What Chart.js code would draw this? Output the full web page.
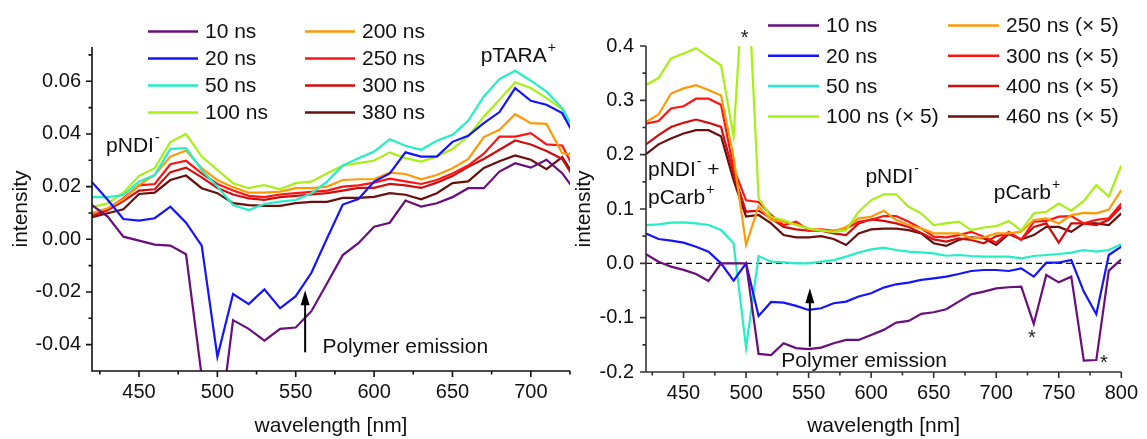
<!DOCTYPE html>
<html>
<head>
<meta charset="utf-8">
<script src="https://cdn.jsdelivr.net/npm/chart.js@4.4.1/dist/chart.umd.min.js"></script>
<style>
  html, body { margin: 0; padding: 0; background: #fff; }
  #wrap { position: relative; width: 1147px; height: 439px; overflow: hidden; }
  canvas { position: absolute; top: 0; }
  #left { left: 0; }
  #right { left: 572px; }
</style>
</head>
<body>
<div id="wrap">
  <canvas id="left" width="572" height="439"></canvas>
  <canvas id="right" width="575" height="439"></canvas>
</div>
<script>
const FONT = '"Liberation Sans", Arial, sans-serif';
Chart.defaults.font.family = FONT;
Chart.defaults.color = '#111';

const lineColors = ['#6a0d7e', '#1414ff', '#22efc6', '#a8f014', '#ff9a05', '#ff1414', '#d20d0d', '#6b0e0e'];

// --- left panel: transient spectra, 10 nm steps ---
const wlLeft = [420, 430, 440, 450, 460, 470, 480, 490, 500, 510, 520, 530, 540, 550, 560, 570,
  580, 590, 600, 610, 620, 630, 640, 650, 660, 670, 680, 690, 700, 710, 720, 730];
const leftLabels = ['10 ns', '20 ns', '50 ns', '100 ns', '200 ns', '250 ns', '300 ns', '380 ns'];

const l10 = [0.013, 0.0086, 0.001, -0.0005, -0.002, -0.0024, -0.0057, -0.052, -0.078, -0.0307, -0.034, -0.0385,
  -0.034, -0.0335, -0.0273, -0.0167, -0.006, -0.0015, 0.0048, 0.0063, 0.0147, 0.0124, 0.0137, 0.016,
  0.0194, 0.0194, 0.0257, 0.0289, 0.0272, 0.0302, 0.0251, 0.017];
const l20 = [0.0217, 0.015, 0.0077, 0.0071, 0.008, 0.0124, 0.0063, -0.0024, -0.0446, -0.0208, -0.0246, -0.019,
  -0.0262, -0.0216, -0.0127, 0.0004, 0.0132, 0.0153, 0.0219, 0.025, 0.033, 0.0314, 0.0314, 0.037,
  0.0393, 0.0441, 0.0483, 0.0574, 0.0526, 0.0511, 0.0479, 0.037];
const l50 = [0.016, 0.016, 0.0168, 0.0219, 0.0244, 0.0343, 0.0346, 0.0263, 0.02, 0.013, 0.0111, 0.0134,
  0.0143, 0.0149, 0.0175, 0.0219, 0.028, 0.0308, 0.0333, 0.038, 0.0355, 0.034, 0.0374, 0.0397,
  0.045, 0.0542, 0.0608, 0.064, 0.0602, 0.0561, 0.0498, 0.039];
const l100 = [0.0122, 0.0137, 0.0177, 0.0241, 0.027, 0.0369, 0.04, 0.0314, 0.0263, 0.0213, 0.0194, 0.0206,
  0.019, 0.0213, 0.0219, 0.0251, 0.028, 0.0289, 0.0299, 0.033, 0.0308, 0.0295, 0.0314, 0.0343,
  0.039, 0.0466, 0.053, 0.0596, 0.0574, 0.0536, 0.0494, 0.037];
const l200 = [0.0099, 0.0118, 0.0152, 0.0206, 0.0244, 0.0314, 0.0337, 0.027, 0.0225, 0.0198, 0.0177, 0.0177,
  0.0181, 0.0194, 0.0194, 0.02, 0.0225, 0.0228, 0.0228, 0.0253, 0.0248, 0.0228, 0.0244, 0.027,
  0.0304, 0.0388, 0.0416, 0.0475, 0.0441, 0.0438, 0.0327, 0.032];
const l250 = [0.0095, 0.0115, 0.0155, 0.0205, 0.021, 0.0285, 0.0298, 0.025, 0.021, 0.0185, 0.0165, 0.016,
  0.017, 0.0175, 0.018, 0.0185, 0.02, 0.0205, 0.0215, 0.023, 0.022, 0.021, 0.0225, 0.025,
  0.028, 0.0325, 0.039, 0.039, 0.0403, 0.036, 0.0356, 0.024];
const l300 = [0.0088, 0.011, 0.0145, 0.0185, 0.019, 0.0255, 0.0272, 0.0235, 0.0195, 0.017, 0.0155, 0.015,
  0.016, 0.0165, 0.017, 0.0175, 0.0185, 0.0195, 0.0195, 0.021, 0.0205, 0.0195, 0.0215, 0.024,
  0.0275, 0.0305, 0.034, 0.0375, 0.036, 0.0335, 0.0305, 0.021];
const l380 = [0.0084, 0.0099, 0.0114, 0.0172, 0.0177, 0.0225, 0.0242, 0.0194, 0.0175, 0.0137, 0.013, 0.0127,
  0.0127, 0.0137, 0.0142, 0.0142, 0.0157, 0.0157, 0.0161, 0.0175, 0.0169, 0.0152, 0.0175, 0.0213,
  0.022, 0.0271, 0.0296, 0.0318, 0.0302, 0.0266, 0.0312, 0.022];

const xTicksLeft = [450, 500, 550, 600, 650, 700];
const xMinorLeft = [425, 475, 525, 575, 625, 675, 725];
const yTicksLeft = [-0.04, -0.02, 0, 0.02, 0.04, 0.06];
const yMinorLeft = [-0.03, -0.01, 0.01, 0.03, 0.05, 0.07];

// --- right panel: later delays scaled by 5 ---
const wlRight = [420, 430, 440, 450, 460, 470, 480, 490, 500, 510, 520, 530, 540, 550, 560, 570, 580,
  590, 600, 610, 620, 630, 640, 650, 660, 670, 680, 690, 700, 710, 720, 730, 740, 750, 760, 770, 780, 790, 800];
const rightLabels = ['10 ns', '20 ns', '50 ns', '100 ns (\u00d7 5)', '250 ns (\u00d7 5)', '300 ns (\u00d7 5)',
  '400 ns (\u00d7 5)', '460 ns (\u00d7 5)'];

const r10 = [0.017, 0.003, -0.006, -0.012, -0.0196, -0.0325, 0, 0, 0, -0.1667, -0.169, -0.147, -0.156,
  -0.158, -0.155, -0.147, -0.141, -0.141, -0.132, -0.1225, -0.109, -0.106, -0.093, -0.09, -0.0846,
  -0.0705, -0.057, -0.052, -0.046, -0.044, -0.043, -0.1115, -0.0214, -0.035, -0.0245, -0.179, -0.178,
  -0.0135, 0.0074];
const r20 = [0.055, 0.0447, 0.0417, 0.038, 0.0306, 0.0214, 0, -0.0319, 0, -0.0968, -0.071, -0.0723, -0.0784,
  -0.0858, -0.0827, -0.0735, -0.0705, -0.061, -0.055, -0.0447, -0.0386, -0.0355, -0.0306, -0.0276, -0.0245,
  -0.0196, -0.0141, -0.0123, -0.0123, -0.0141, -0.0092, -0.0245, 0.0012, 0.0012, 0.0061, -0.052, -0.0936,
  0.0153, 0.0306];
const r50 = [0.0705, 0.0717, 0.0748, 0.0754, 0.0735, 0.0705, 0.0613, 0.0368, -0.155, 0.0135, 0.003, 0.0018, 0,
  0, 0.003, 0.006, 0.0123, 0.02, 0.0257, 0.0288, 0.0245, 0.0214, 0.0202, 0.0184, 0.014, 0.0153, 0.0135,
  0.0123, 0.0123, 0.0123, 0.0092, 0.0135, 0.0153, 0.0172, 0.0196, 0.0245, 0.0214, 0.0245, 0.035];
const r100 = [0.328, 0.341, 0.377, 0.386, 0.396, 0.38, 0.3646, 0.234, 0.6, 0.12, 0.085, 0.0797, 0.0705,
  0.064, 0.06, 0.058, 0.061, 0.095, 0.116, 0.127, 0.127, 0.104, 0.092, 0.0705, 0.0735, 0.0766, 0.061,
  0.066, 0.0686, 0.078, 0.06, 0.092, 0.095, 0.11, 0.097, 0.115, 0.144, 0.123, 0.18];
const r250 = [0.26, 0.274, 0.3125, 0.322, 0.328, 0.319, 0.309, 0.196, 0.034, 0.105, 0.08, 0.0766, 0.072,
  0.064, 0.061, 0.058, 0.067, 0.0827, 0.0858, 0.0968, 0.0797, 0.0705, 0.0643, 0.0551, 0.0551, 0.0551,
  0.046, 0.0478, 0.0551, 0.0551, 0.0582, 0.0797, 0.0827, 0.0735, 0.0888, 0.093, 0.092, 0.099, 0.135];
const r300 = [0.257, 0.262, 0.285, 0.289, 0.303, 0.303, 0.292, 0.175, 0.116, 0.113, 0.089, 0.0705, 0.0766,
  0.061, 0.0625, 0.06, 0.064, 0.0766, 0.08, 0.087, 0.087, 0.0766, 0.0643, 0.049, 0.0478, 0.052, 0.058,
  0.049, 0.038, 0.058, 0.043, 0.0766, 0.078, 0.086, 0.087, 0.0735, 0.08, 0.083, 0.11];
const r400 = [0.219, 0.236, 0.251, 0.2586, 0.2647, 0.2586, 0.251, 0.165, 0.095, 0.097, 0.0827, 0.067, 0.0625,
  0.06, 0.06, 0.055, 0.052, 0.0735, 0.081, 0.078, 0.0735, 0.067, 0.056, 0.044, 0.04, 0.046, 0.043,
  0.037, 0.05, 0.055, 0.044, 0.067, 0.0735, 0.038, 0.0735, 0.0735, 0.0705, 0.08, 0.104];
const r460 = [0.201, 0.219, 0.2298, 0.239, 0.245, 0.245, 0.234, 0.153, 0.086, 0.089, 0.0735, 0.052, 0.0478,
  0.0478, 0.05, 0.0447, 0.0337, 0.055, 0.0625, 0.064, 0.064, 0.061, 0.055, 0.037, 0.032, 0.043, 0.048,
  0.046, 0.0337, 0.054, 0.044, 0.052, 0.067, 0.067, 0.058, 0.0735, 0.0735, 0.0705, 0.092];

const zeroX = [420, 800];
const zeroY = [0, 0];

const xTicksRight = [450, 500, 550, 600, 650, 700, 750, 800];
const xMinorRight = [425, 475, 525, 575, 625, 675, 725, 775];
const yTicksRight = [-0.2, -0.1, 0, 0.1, 0.2, 0.3, 0.4];
const yMinorRight = [-0.15, -0.05, 0.05, 0.15, 0.25, 0.35];

function toPoints(xs, ys) {
  return ys.map((y, i) => ({ x: xs[i], y: y }));
}

function seriesSets(xs, all, labels) {
  return all.map((ys, i) => ({
    label: labels[i],
    data: toPoints(xs, ys),
    borderColor: lineColors[i],
    backgroundColor: lineColors[i],
    borderWidth: 2.2,
    pointRadius: 0,
    tension: 0,
    fill: false
  }));
}

// axis lines, ticks, legend and annotations are drawn here
const decor = {
  id: 'decor',
  afterDraw(chart, args, o) {
    const ctx = chart.ctx;
    const xs = chart.scales.x, ys = chart.scales.y, a = chart.chartArea;
    ctx.save();

    ctx.strokeStyle = o.axisColor;
    ctx.lineWidth = 1.6;
    ctx.beginPath();
    ctx.moveTo(a.left, a.top);
    ctx.lineTo(a.left, a.bottom);
    ctx.lineTo(a.right, a.bottom);
    const xt = (vals, len) => vals.forEach(v => {
      const px = xs.getPixelForValue(v);
      ctx.moveTo(px, a.bottom); ctx.lineTo(px, a.bottom + len);
    });
    const yt = (vals, len) => vals.forEach(v => {
      const py = ys.getPixelForValue(v);
      ctx.moveTo(a.left, py); ctx.lineTo(a.left - len, py);
    });
    xt(o.xMajor, 6); xt(o.xMinor, 3.5);
    yt(o.yMajor, 6); yt(o.yMinor, 3.5);
    ctx.stroke();

    // legend, two columns of four
    const lg = o.legend;
    ctx.font = '21px ' + FONT;
    ctx.textBaseline = 'middle';
    ctx.textAlign = 'left';
    chart.data.datasets.forEach((ds, i) => {
      if (!ds.label) return;
      const col = Math.floor(i / 4), row = i % 4;
      const x0 = lg.x[col], y = lg.y0 + row * lg.dy;
      ctx.strokeStyle = ds.borderColor;
      ctx.lineWidth = 2.5;
      ctx.beginPath();
      ctx.moveTo(x0, y); ctx.lineTo(x0 + lg.len, y);
      ctx.stroke();
      ctx.fillStyle = '#111';
      ctx.fillText(ds.label, x0 + lg.len + 7, y + 1);
    });

    // labels with superscripts
    o.notes.forEach(n => {
      const px = xs.getPixelForValue(n.x), py = ys.getPixelForValue(n.y);
      ctx.font = '21px ' + FONT;
      ctx.fillStyle = '#111';
      ctx.fillText(n.t, px, py);
      let w = ctx.measureText(n.t).width;
      if (n.sup) {
        ctx.font = '14px ' + FONT;
        ctx.fillText(n.sup, px + w + 1, py - 8);
        w += ctx.measureText(n.sup).width + 1;
      }
      if (n.tail) {
        ctx.font = '21px ' + FONT;
        ctx.fillText(n.tail, px + w, py);
      }
    });

    // arrows
    ctx.strokeStyle = '#000';
    ctx.fillStyle = '#000';
    o.arrows.forEach(ar => {
      const px = xs.getPixelForValue(ar.x);
      const p0 = ys.getPixelForValue(ar.from), p1 = ys.getPixelForValue(ar.to);
      ctx.lineWidth = 2;
      ctx.beginPath();
      ctx.moveTo(px, p0); ctx.lineTo(px, p1 + 12);
      ctx.stroke();
      ctx.beginPath();
      ctx.moveTo(px, p1); ctx.lineTo(px - 4.5, p1 + 15); ctx.lineTo(px + 4.5, p1 + 15);
      ctx.closePath();
      ctx.fill();
    });

    // asterisks
    ctx.font = '20px ' + FONT;
    ctx.textAlign = 'center';
    ctx.textBaseline = 'alphabetic';
    ctx.fillStyle = '#222';
    (o.stars || []).forEach(s => {
      ctx.fillText('*', xs.getPixelForValue(s.x), ys.getPixelForValue(s.y) + 12);
    });
    ctx.restore();
  }
};

function axisFont(size) { return { family: FONT, size: size }; }

function makeChart(id, cfg) {
  return new Chart(document.getElementById(id), {
    type: 'line',
    data: { datasets: cfg.datasets },
    options: {
      responsive: false,
      animation: false,
      events: [],
      layout: { padding: cfg.padding },
      scales: {
        x: {
          type: 'linear',
          min: cfg.xMin, max: cfg.xMax,
          grid: { display: false, drawTicks: false },
          border: { display: false },
          afterFit: s => { s.height = cfg.xHeight; },
          afterBuildTicks: s => { s.ticks = cfg.xTicks.map(v => ({ value: v })); },
          ticks: { font: axisFont(20), color: '#111', padding: 9, maxRotation: 0, autoSkip: false },
          title: { display: true, text: 'wavelength [nm]', font: axisFont(21), color: '#111', padding: { top: 0, bottom: 0 } }
        },
        y: {
          type: 'linear',
          min: cfg.yMin, max: cfg.yMax,
          grid: { display: false, drawTicks: false },
          border: { display: false },
          afterFit: s => { s.width = cfg.yWidth; },
          afterBuildTicks: s => { s.ticks = cfg.yTicks.map(v => ({ value: v })); },
          ticks: { font: axisFont(20), color: '#111', padding: cfg.yPad, callback: v => v.toFixed(cfg.digits) },
          title: { display: true, text: 'intensity', font: axisFont(21), color: '#111', padding: { top: cfg.yTitlePad, bottom: 0 } }
        }
      },
      plugins: {
        legend: { display: false },
        tooltip: { enabled: false },
        decor: cfg.decor
      }
    },
    plugins: [decor]
  });
}

makeChart('left', {
  datasets: seriesSets(wlLeft, [l10, l20, l50, l100, l200, l250, l300, l380], leftLabels),
  padding: { left: 0, right: 2, top: 47, bottom: 0 },
  xMin: 420, xMax: 725, yMin: -0.05, yMax: 0.073,
  xHeight: 68, yWidth: 92, yPad: 11, yTitlePad: 9, digits: 2,
  xTicks: xTicksLeft, yTicks: yTicksLeft,
  decor: {
    axisColor: '#111',
    xMajor: xTicksLeft, xMinor: xMinorLeft, yMajor: yTicksLeft, yMinor: yMinorLeft,
    legend: { x: [148, 305], y0: 31.5, dy: 27, len: 50 },
    notes: [
      { t: 'pNDI', sup: '-', x: 429, y: 0.0352 },
      { t: 'pTARA', sup: '+', x: 668, y: 0.0694 },
      { t: 'Polymer emission', x: 567, y: -0.0408 }
    ],
    arrows: [{ x: 556, from: -0.0429, to: -0.0193 }]
  }
});

const rightSets = seriesSets(wlRight, [r10, r20, r50, r100, r250, r300, r400, r460], rightLabels);
rightSets.push({
  data: toPoints(zeroX, zeroY),
  borderColor: '#111',
  borderWidth: 1.3,
  borderDash: [6, 4],
  pointRadius: 0,
  fill: false
});

makeChart('right', {
  datasets: rightSets,
  padding: { left: 0, right: 21, top: 46, bottom: 0 },
  xMin: 420, xMax: 800, yMin: -0.2, yMax: 0.4,
  xHeight: 67, yWidth: 74, yPad: 12, yTitlePad: 0, digits: 1,
  xTicks: xTicksRight, yTicks: yTicksRight,
  decor: {
    axisColor: '#333',
    xMajor: xTicksRight, xMinor: xMinorRight, yMajor: yTicksRight, yMinor: yMinorRight,
    legend: { x: [196, 376], y0: 25.5, dy: 30.3, len: 51 },
    notes: [
      { t: 'pNDI', sup: '-', tail: ' +', x: 421.6, y: 0.1717 },
      { t: 'pCarb', sup: '+', x: 421.6, y: 0.12 },
      { t: 'pNDI', sup: '-', x: 595.4, y: 0.1588 },
      { t: 'pCarb', sup: '+', x: 698, y: 0.1294 },
      { t: 'Polymer emission', x: 528.2, y: -0.18 }
    ],
    arrows: [{ x: 551, from: -0.1535, to: -0.046 }],
    stars: [{ x: 498.8, y: 0.4263 }, { x: 728.6, y: -0.126 }, { x: 786, y: -0.172 }]
  }
});
</script>
</body>
</html>
